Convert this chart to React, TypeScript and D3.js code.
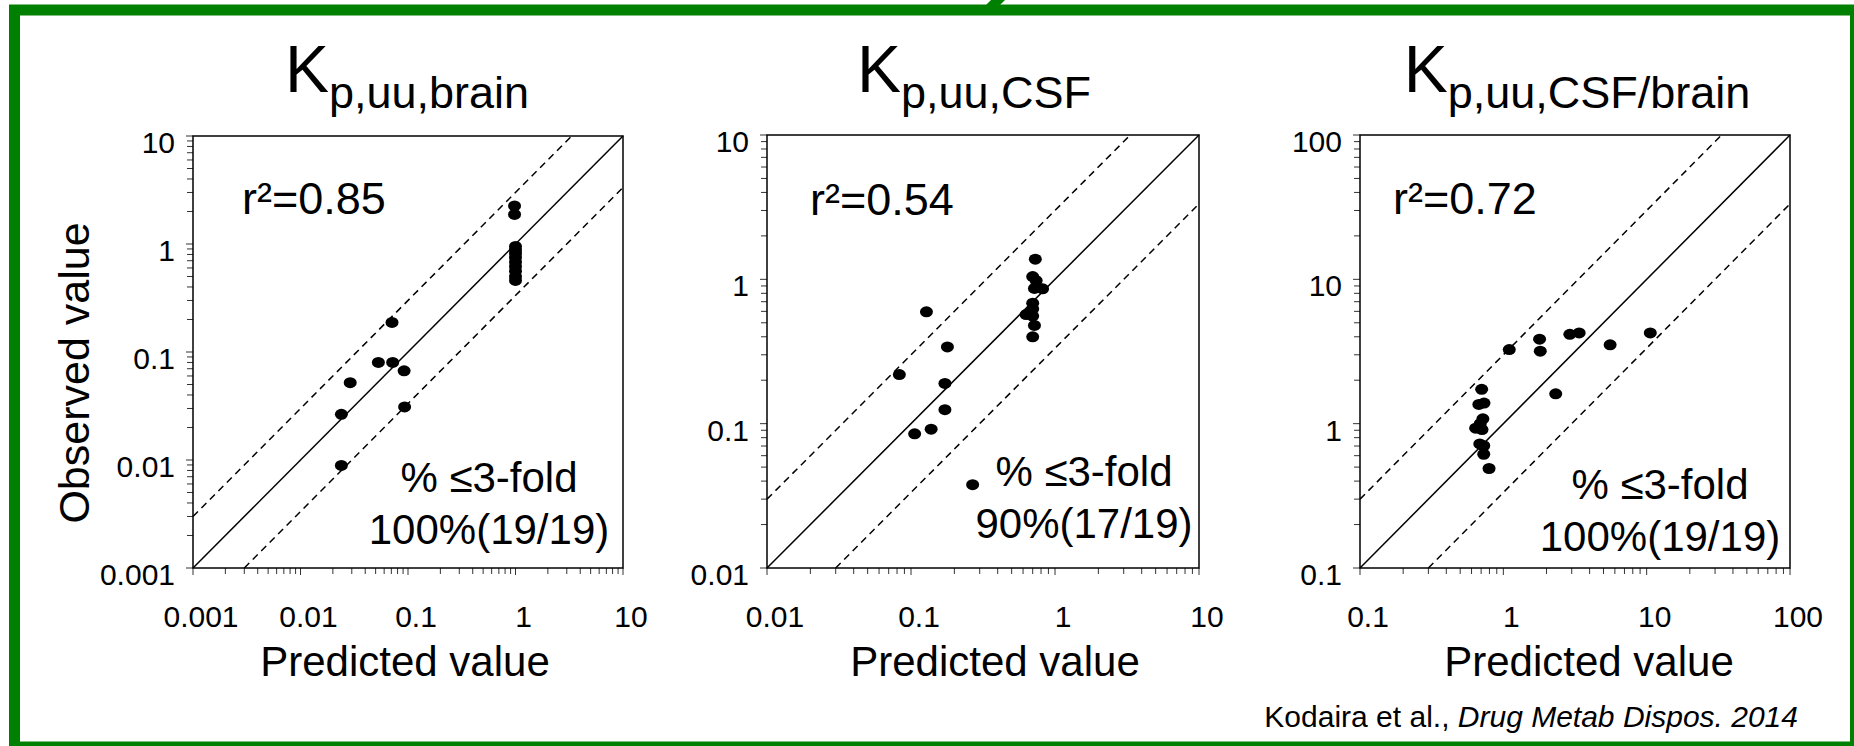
import React, { useEffect, useRef } from 'react';
import * as d3 from 'd3';

const FONT = '"Liberation Sans", Arial, Helvetica, sans-serif';

// Kp,uu,brain  (predicted vs observed)
const brainPredicted = [0.98, 0.98, 1, 1, 1, 1, 1, 1, 1, 1, 1, 0.071, 0.053, 0.072, 0.092, 0.029, 0.024, 0.093, 0.024];
const brainObserved = [2.25, 1.88, 0.95, 0.88, 0.82, 0.75, 0.68, 0.62, 0.56, 0.5, 0.46, 0.188, 0.08, 0.08, 0.067, 0.052, 0.0265, 0.031, 0.0089];

// Kp,uu,CSF
const csfPredicted = [0.73, 0.7, 0.74, 0.72, 0.82, 0.7, 0.7, 0.63, 0.7, 0.72, 0.7, 0.128, 0.179, 0.083, 0.172, 0.172, 0.138, 0.106, 0.268];
const csfObserved = [1.38, 1.045, 0.98, 0.865, 0.86, 0.684, 0.624, 0.57, 0.557, 0.479, 0.4, 0.596, 0.34, 0.219, 0.19, 0.125, 0.0916, 0.085, 0.0378];

// Kp,uu,CSF/brain
const ratioPredicted = [1.1, 1.79, 1.81, 2.91, 3.38, 5.56, 10.6, 2.32, 0.706, 0.675, 0.733, 0.72, 0.641, 0.71, 0.685, 0.73, 0.73, 0.795, 0.69];
const ratioObserved = [3.26, 3.85, 3.18, 4.16, 4.25, 3.52, 4.25, 1.61, 1.73, 1.36, 1.39, 1.08, 0.93, 0.91, 0.724, 0.703, 0.614, 0.489, 1.0];

const brainTicks = ['0.001', '0.01', '0.1', '1', '10'];
const csfTicks = ['0.01', '0.1', '1', '10'];
const ratioTicks = ['0.1', '1', '10', '100'];

const subscripts = ['p,uu,brain', 'p,uu,CSF', 'p,uu,CSF/brain'];
const r2Values = ['0.85', '0.54', '0.72'];
const foldValues = ['100%(19/19)', '90%(17/19)', '100%(19/19)'];

const FOLD = 3;

// placement of each panel on the page
const layout = [
  { left: 193, right: 623, top: 136, bottom: 568, titleX: 407, labelX: 405, r2X: 242, r2Y: 214, foldX: 489, foldY: 492 },
  { left: 767, right: 1199, top: 135, bottom: 568, titleX: 974, labelX: 995, r2X: 810, r2Y: 215, foldX: 1084, foldY: 486 },
  { left: 1360, right: 1790, top: 135, bottom: 568, titleX: 1577, labelX: 1589, r2X: 1393, r2Y: 214, foldX: 1660, foldY: 499 },
];

const panelData = [
  { ticks: brainTicks, pred: brainPredicted, obs: brainObserved },
  { ticks: csfTicks, pred: csfPredicted, obs: csfObserved },
  { ticks: ratioTicks, pred: ratioPredicted, obs: ratioObserved },
];

export default function App() {
  const svgRef = useRef<SVGSVGElement>(null);

  useEffect(() => {
    const svg = d3.select(svgRef.current);
    svg.selectAll('*').remove();

    svg.append('rect')
      .attr('width', 1854).attr('height', 746).attr('fill', '#fff');

    // slide frame
    svg.append('rect')
      .attr('x', 14.5).attr('y', 10).attr('width', 1841).attr('height', 737)
      .attr('fill', 'none').attr('stroke', '#008000').attr('stroke-width', 11);
    // bit of the slide title peeking over the frame
    svg.append('path')
      .attr('d', 'M991,0 L1005,0 L1000,5 L986,5 Z')
      .attr('fill', '#008000');

    panelData.forEach((p, i) => {
      const L = layout[i];
      const dmin = +p.ticks[0];
      const dmax = +p.ticks[p.ticks.length - 1];
      const x = d3.scaleLog().domain([dmin, dmax]).range([L.left, L.right]);
      const y = d3.scaleLog().domain([dmin, dmax]).range([L.bottom, L.top]);
      const g = svg.append('g').style('font-family', FONT);

      const isMajor = (t: number) => Math.abs(Math.log10(t) - Math.round(Math.log10(t))) < 1e-6;
      const minor = x.ticks();

      // y ticks
      g.selectAll('.yt')
        .data(minor)
        .join('line')
        .attr('x1', d => L.left - (isMajor(d) ? 7 : 6))
        .attr('x2', L.left)
        .attr('y1', d => y(d))
        .attr('y2', d => y(d))
        .attr('stroke', '#333')
        .attr('stroke-width', 1);
      // x ticks
      g.selectAll('.xt')
        .data(minor)
        .join('line')
        .attr('x1', d => x(d))
        .attr('x2', d => x(d))
        .attr('y1', L.bottom)
        .attr('y2', d => L.bottom + (isMajor(d) ? 7 : 6))
        .attr('stroke', '#333')
        .attr('stroke-width', 1);

      // tick labels
      g.selectAll('.yl')
        .data(p.ticks)
        .join('text')
        .attr('x', L.left - 18)
        .attr('y', d => y(+d) + 17)
        .attr('text-anchor', 'end')
        .style('font-size', '30px')
        .text(d => d);
      g.selectAll('.xl')
        .data(p.ticks)
        .join('text')
        .attr('x', d => x(+d) + 8)
        .attr('y', 627)
        .attr('text-anchor', 'middle')
        .style('font-size', '30px')
        .text(d => d);

      // plot box
      g.append('rect')
        .attr('x', L.left).attr('y', L.top)
        .attr('width', L.right - L.left).attr('height', L.bottom - L.top)
        .attr('fill', 'none').attr('stroke', '#000').attr('stroke-width', 1.5);

      // unity and 3-fold lines
      const lines = [
        { a: [dmin, dmin], b: [dmax, dmax], dash: null },
        { a: [dmin, dmin * FOLD], b: [dmax / FOLD, dmax], dash: '7,5' },
        { a: [dmin * FOLD, dmin], b: [dmax, dmax / FOLD], dash: '7,5' },
      ];
      lines.forEach(l => {
        g.append('line')
          .attr('x1', x(l.a[0])).attr('y1', y(l.a[1]))
          .attr('x2', x(l.b[0])).attr('y2', y(l.b[1]))
          .attr('stroke', '#000').attr('stroke-width', 1.5)
          .attr('stroke-dasharray', l.dash);
      });

      // points
      g.selectAll('ellipse')
        .data(p.pred.map((v, k) => [v, p.obs[k]]))
        .join('ellipse')
        .attr('cx', d => x(d[0]))
        .attr('cy', d => y(d[1]))
        .attr('rx', 6.5)
        .attr('ry', 5.5)
        .attr('fill', '#000');

      // title
      const title = g.append('text')
        .attr('x', L.titleX).attr('y', 92)
        .attr('text-anchor', 'middle');
      title.append('tspan').style('font-size', '66px').text('K');
      title.append('tspan').attr('dy', 16).style('font-size', '45px').text(subscripts[i]);

      g.append('text')
        .attr('x', L.r2X).attr('y', L.r2Y)
        .style('font-size', '45px')
        .text(`r\u00B2=${r2Values[i]}`);

      g.append('text')
        .attr('x', L.foldX).attr('y', L.foldY)
        .attr('text-anchor', 'middle')
        .style('font-size', '42px')
        .text('% \u22643-fold');
      g.append('text')
        .attr('x', L.foldX).attr('y', L.foldY + 52)
        .attr('text-anchor', 'middle')
        .style('font-size', '42px')
        .text(foldValues[i]);

      g.append('text')
        .attr('x', L.labelX).attr('y', 676)
        .attr('text-anchor', 'middle')
        .style('font-size', '42px')
        .text('Predicted value');
    });

    svg.append('text')
      .attr('transform', 'translate(89,373) rotate(-90)')
      .attr('text-anchor', 'middle')
      .style('font-family', FONT)
      .style('font-size', '43px')
      .text('Observed value');

    const cite = svg.append('text')
      .attr('x', 1798).attr('y', 727)
      .attr('text-anchor', 'end')
      .style('font-family', FONT)
      .style('font-size', '30px');
    cite.append('tspan').text('Kodaira et al., ');
    cite.append('tspan').style('font-style', 'italic').text('Drug Metab Dispos. 2014');
  }, []);

  return (
    <svg
      ref={svgRef}
      width={1854}
      height={746}
      style={{ position: 'absolute', left: 0, top: 0, display: 'block' }}
    />
  );
}
